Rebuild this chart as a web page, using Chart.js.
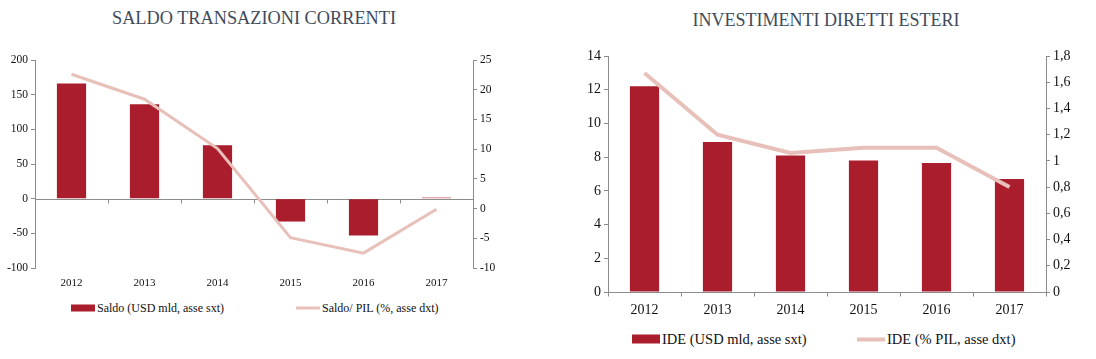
<!DOCTYPE html>
<html lang="it">
  <head>
    <meta charset="UTF-8" />
    <title>Saldo transazioni correnti / IDE</title>
    <script src="https://cdn.jsdelivr.net/npm/chart.js"></script>
    <style>
      body {
        margin: 0;
        background: #fff;
        font-family: "Liberation Serif", "Times New Roman", serif;
        width: 1096px;
        height: 359px;
        position: relative;
        overflow: hidden;
      }
      .box { position: absolute; }
      .title {
        position: absolute;
        color: #404b5a;
        white-space: nowrap;
        transform: translate(-50%, -50%);
      }
      .leg {
        position: absolute;
        display: flex;
        align-items: center;
        white-space: nowrap;
        color: #111;
        transform: translateY(-50%);
      }
      .leg i { display: inline-block; margin-right: 2px; }
    </style>
  </head>
  <body>
    <div class="title" style="left:254px; top:18px; font-size:18.3px">SALDO TRANSAZIONI CORRENTI</div>
    <div class="box" style="left:0; top:0; width:510px; height:300px">
      <canvas id="saldoChart"></canvas>
    </div>
    <div class="leg" style="left:71px; top:308px; font-size:12px">
      <i style="width:24px; height:7px; background:#a91d2c"></i>Saldo (USD mld, asse sxt)
    </div>
    <div class="leg" style="left:296px; top:308px; font-size:12px">
      <i style="width:24px; height:3px; background:#e8c0ba"></i>Saldo/ PIL (%, asse dxt)
    </div>

    <div class="title" style="left:826px; top:20px; font-size:18px">INVESTIMENTI DIRETTI ESTERI</div>
    <div class="box" style="left:560px; top:0; width:530px; height:330px">
      <canvas id="ideChart"></canvas>
    </div>
    <div class="leg" style="left:632px; top:339px; font-size:14.5px">
      <i style="width:28px; height:9px; background:#a91d2c"></i>IDE (USD mld, asse sxt)
    </div>
    <div class="leg" style="left:857px; top:339px; font-size:14.5px">
      <i style="width:28px; height:4px; background:#e8c0ba"></i>IDE (% PIL, asse dxt)
    </div>

    <script>
      // data
      const years = ["2012", "2013", "2014", "2015", "2016", "2017"];
      const saldoUsd = [166, 136, 77, -33, -53, 1.5];
      const saldoPil = [22.6, 18.4, 10.1, -4.9, -7.5, -0.1];
      const ideUsd = [12.2, 8.9, 8.1, 7.8, 7.65, 6.7];
      const idePil = [1.67, 1.2, 1.06, 1.1, 1.1, 0.8];

      const barColor = "#a91d2c";
      const lineColor = "#e8c0ba";
      const axisColor = "#8c8c8c";
      const serif = "'Liberation Serif', 'Times New Roman', serif";

      // zero line + category boundary ticks, like the excel axis
      const zeroAxis = {
        id: "zeroAxis",
        beforeDatasetsDraw(chart) {
          const x = chart.scales.x, y = chart.scales.y, ctx = chart.ctx;
          const y0 = Math.round(y.getPixelForValue(0)) + 0.5;
          ctx.save();
          ctx.strokeStyle = axisColor;
          ctx.lineWidth = 1;
          ctx.beginPath();
          ctx.moveTo(chart.chartArea.left, y0);
          ctx.lineTo(chart.chartArea.right, y0);
          for (let i = 0; i <= years.length; i++) {
            const px = Math.round(x.getPixelForValue(i - 0.5)) + 0.5;
            ctx.moveTo(px, y0);
            ctx.lineTo(px, y0 + 4);
          }
          ctx.stroke();
          ctx.restore();
        },
      };

      function yAxis(pos, min, max, step, width, size, fmt) {
        return {
          position: pos,
          min: min,
          max: max,
          afterFit: (s) => { s.width = width; },
          border: { display: true, color: axisColor },
          grid: { drawOnChartArea: false, drawTicks: true, tickLength: 4, color: axisColor },
          ticks: {
            stepSize: step,
            padding: 3,
            color: "#111",
            font: { family: serif, size: size },
            callback: fmt,
          },
        };
      }

      function makeChart(id, bars, line, o) {
        return new Chart(document.getElementById(id), {
          type: "bar",
          data: {
            labels: years,
            datasets: [
              {
                type: "line",
                data: line,
                yAxisID: "y1",
                borderColor: lineColor,
                borderWidth: o.lineWidth,
                pointRadius: 0,
                tension: 0,
                order: 0,
              },
              {
                data: bars,
                yAxisID: "y",
                backgroundColor: barColor,
                barPercentage: 0.4,
                categoryPercentage: 1,
                order: 1,
              },
            ],
          },
          options: {
            responsive: true,
            maintainAspectRatio: false,
            animation: false,
            layout: { padding: { top: o.top, bottom: o.bottom, left: 0, right: 0 } },
            plugins: { legend: { display: false }, tooltip: { enabled: false } },
            scales: {
              x: {
                afterFit: (s) => { s.height = o.xHeight; },
                border: { display: false },
                grid: { display: false, drawTicks: false },
                ticks: { padding: o.xPad, color: "#111", font: { family: serif, size: o.size } },
              },
              y: yAxis("left", o.y[0], o.y[1], o.y[2], o.leftW, o.ySize, (v) => v),
              y1: yAxis("right", o.y1[0], o.y1[1], o.y1[2], o.rightW, o.ySize, o.fmt1),
            },
          },
          plugins: [zeroAxis],
        });
      }

      makeChart("saldoChart", saldoUsd, saldoPil, {
        top: 60, bottom: 7, xHeight: 25, xPad: 9, size: 11, ySize: 11.5, lineWidth: 3,
        leftW: 35, rightW: 37,
        y: [-100, 200, 50], y1: [-10, 25, 5],
        fmt1: (v) => v,
      });

      makeChart("ideChart", ideUsd, idePil, {
        top: 56, bottom: 8, xHeight: 30, xPad: 10, size: 14, ySize: 14, lineWidth: 4,
        leftW: 48, rightW: 44,
        y: [0, 14, 2], y1: [0, 1.8, 0.2],
        fmt1: (v) => String(Number(v.toFixed(1))).replace(".", ","),
      });
    </script>
  </body>
</html>
